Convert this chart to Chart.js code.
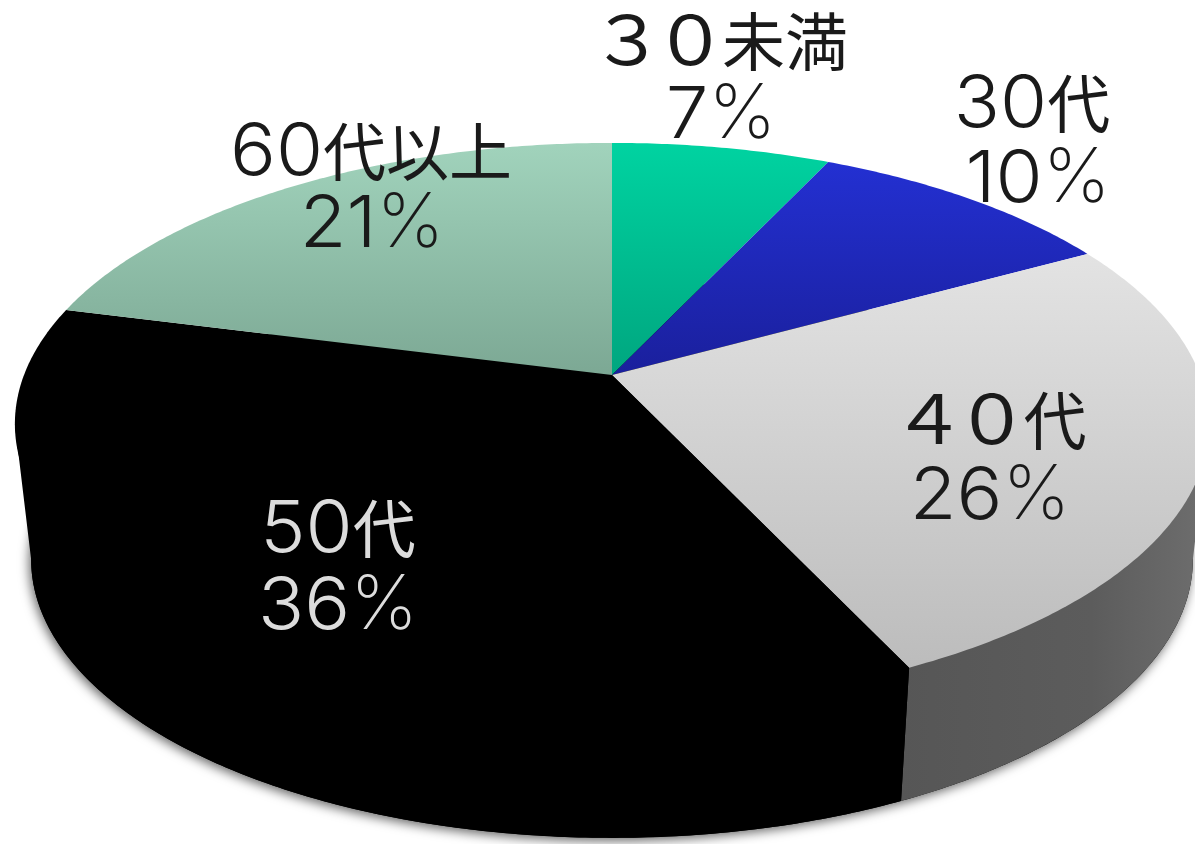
<!DOCTYPE html>
<html lang="ja">
<head>
<meta charset="utf-8">
<title>年代別構成比</title>
<script src="https://cdn.jsdelivr.net/npm/chart.js@4/dist/chart.umd.min.js"></script>
<style>
  html, body { margin: 0; background: #fff; }
  canvas { display: block; }
</style>
</head>
<body>
<canvas id="agePie" width="1195" height="844"></canvas>
<script>
const categories = ['３０未満', '30代', '４０代', '50代', '60代以上'];
const shares = [7, 10, 26, 36, 21];

// top face colours, first stop at the far edge of the slice
const faceColors = [
  ['#00d3a1', '#00a67f'],
  ['#2330d2', '#1a1f9c'],
  ['#e3e3e3', '#bcbcbc'],
  ['#000000', '#000000'],
  ['#a1d3bc', '#7ca894']
];
const sideColors = [null, null, 'grey', '#000000', null];

// perspective discs: the lid and the rim of the base
const K = 0.174;
const lid = { cx: 612, cy: 375, a: 588, b: 272.5 };
const base = { cx: 612, cy: 511, a: 572, b: 270 };

// the silhouette of a tilted disc touches its sides where sin(theta) = K
const SIDE_RIGHT = Math.asin(K);
const SIDE_LEFT = Math.PI - SIDE_RIGHT;

// label centre x and baseline y for each line of text
const labelSpots = [
  [[722, 65], [721, 138]],
  [[1032, 127], [1038, 202]],
  [[992, 444], [990, 519]],
  [[338, 552], [338, 629]],
  [[371, 175], [372, 247]]
];
const labelInk = ['#1a1a1a', '#1a1a1a', '#1a1a1a', '#dcdcdc', '#1a1a1a'];

function project(disc, theta) {
  const u = Math.cos(theta), v = Math.sin(theta);
  const d = 1 - K * v;
  return { x: disc.cx + disc.a * u / d, y: disc.cy + disc.b * v / d };
}

function rimPoints(disc, start, end) {
  const pts = [];
  const n = Math.max(2, Math.ceil((end - start) / 0.01));
  for (let i = 0; i <= n; i++) pts.push(project(disc, start + (end - start) * i / n));
  return pts;
}

function tracePolygon(ctx, pts) {
  ctx.beginPath();
  pts.forEach((p, i) => i ? ctx.lineTo(p.x, p.y) : ctx.moveTo(p.x, p.y));
  ctx.closePath();
}

// glyph font and horizontal stretch per character
function glyphStyle(ch) {
  if (ch === '%') return { font: "200 76px Inter, sans-serif", sx: 1.0, pitch: null };
  if (/[0-9]/.test(ch)) return { font: "300 72px Inter, sans-serif", sx: 1.06, pitch: null };
  if (/[０-９]/.test(ch)) return { font: "68px 'Noto Sans CJK JP', sans-serif", sx: 1.1, pitch: 63 };
  return { font: "63px 'Noto Sans CJK JP', sans-serif", sx: 1, pitch: null };
}

function drawLine(ctx, text, cx, y) {
  const glyphs = Array.from(text).map(ch => {
    const st = glyphStyle(ch);
    ctx.font = st.font;
    const w = ctx.measureText(ch).width * st.sx;
    return { ch, st, adv: st.pitch || w };
  });
  const total = glyphs.reduce((s, g) => s + g.adv, 0);
  let x = cx - total / 2;
  glyphs.forEach(g => {
    ctx.save();
    ctx.font = g.st.font;
    ctx.translate(x + g.adv / 2, y);
    ctx.scale(g.st.sx, 1);
    ctx.fillText(g.ch, 0, 0);
    ctx.restore();
    x += g.adv;
  });
}

const tiltedPie = {
  id: 'tiltedPie',
  beforeDatasetDraw(chart, args) {
    const ctx = chart.ctx;
    const arcs = args.meta.data;
    ctx.save();

    // soft shadow under the base
    ctx.save();
    ctx.shadowColor = 'rgba(0,0,0,0.6)';
    ctx.shadowBlur = 11;
    ctx.shadowOffsetX = -2;
    ctx.shadowOffsetY = 3;
    ctx.fillStyle = '#000';
    tracePolygon(ctx, rimPoints(base, 0, Math.PI * 2));
    ctx.fill();
    ctx.restore();

    // side wall of the slices that face the viewer, run up under the lid
    arcs.forEach((arc, i) => {
      if (!sideColors[i]) return;
      const s = Math.max(arc.startAngle, SIDE_RIGHT);
      const e = Math.min(arc.endAngle, SIDE_LEFT);
      const pts = [project(lid, s)].concat(rimPoints(base, s, e), [project(lid, e), { x: lid.cx, y: lid.cy }]);
      let fill = sideColors[i];
      if (fill === 'grey') {
        fill = ctx.createLinearGradient(900, 0, 1195, 0);
        fill.addColorStop(0, '#565656');
        fill.addColorStop(0.65, '#5c5c5c');
        fill.addColorStop(1, '#6c6c6c');
      }
      ctx.fillStyle = fill;
      tracePolygon(ctx, pts);
      ctx.fill();
    });

    // top face
    arcs.forEach((arc, i) => {
      const pts = rimPoints(lid, arc.startAngle, arc.endAngle);
      pts.push({ x: lid.cx, y: lid.cy });
      const ys = pts.map(p => p.y);
      const grad = ctx.createLinearGradient(0, Math.min(...ys), 0, Math.max(...ys));
      grad.addColorStop(0, faceColors[i][0]);
      grad.addColorStop(1, faceColors[i][1]);
      ctx.fillStyle = grad;
      tracePolygon(ctx, pts);
      ctx.fill();
    });

    ctx.restore();
    return false;
  },
  afterDatasetsDraw(chart) {
    const ctx = chart.ctx;
    ctx.save();
    ctx.textAlign = 'center';
    ctx.textBaseline = 'alphabetic';
    categories.forEach((name, i) => {
      ctx.fillStyle = labelInk[i];
      drawLine(ctx, name, labelSpots[i][0][0], labelSpots[i][0][1]);
      drawLine(ctx, shares[i] + '%', labelSpots[i][1][0], labelSpots[i][1][1]);
    });
    ctx.restore();
  }
};

new Chart(document.getElementById('agePie'), {
  type: 'pie',
  data: {
    labels: categories,
    datasets: [{ data: shares, backgroundColor: faceColors.map(c => c[0]), borderWidth: 0 }]
  },
  options: {
    responsive: false,
    animation: false,
    plugins: {
      legend: { display: false },
      tooltip: { enabled: false }
    }
  },
  plugins: [tiltedPie]
});
</script>
</body>
</html>
